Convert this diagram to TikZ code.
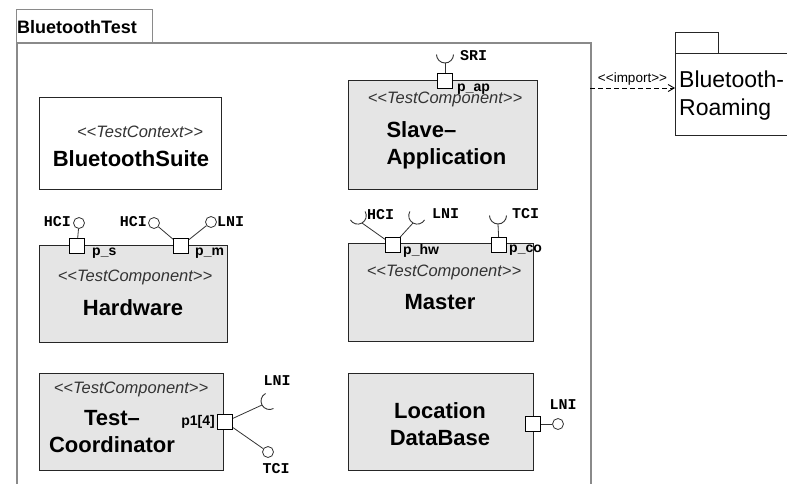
\documentclass[tikz,border=0pt]{standalone}
\usepackage{fontspec}
\setmainfont{Liberation Sans}
\setmonofont{Liberation Mono}
\usetikzlibrary{positioning,arrows.meta,calc}

\definecolor{compgray}{HTML}{E5E5E5}
\definecolor{framegray}{HTML}{8A8A8A}

\tikzset{
  comp/.style={draw=black!85, fill=compgray, line width=1.2pt, anchor=north west, inner sep=0pt},
  ctxbox/.style={draw=black!85, fill=white, line width=1.2pt, anchor=north west, inner sep=0pt},
  portbox/.style={draw=black, fill=white, line width=1pt, minimum size=15pt, inner sep=0pt},
  ball/.style={circle, draw=black!80, fill=white, line width=0.8pt, minimum size=11pt, inner sep=0pt},
  stereo/.style={font=\fontsize{16.5}{18}\selectfont\itshape, text=black!80},
  cname/.style={font=\fontsize{22}{27}\selectfont\bfseries, align=center},
  iflabel/.style={font=\fontsize{15}{17}\selectfont\ttfamily\bfseries, inner sep=1pt},
  portlabel/.style={font=\fontsize{14}{16}\selectfont\bfseries, inner sep=1pt},
  wire/.style={draw=black!80, line width=0.8pt},
  cup/.pic={\draw[black!80, line width=0.9pt] (-8.5,8.5) arc (180:360:8.5);}
}

\begin{document}
\begin{tikzpicture}[x=1pt,y=1pt]
	\useasboundingbox (0,0) rectangle (787,-483);
	
	% package frame
	\node[draw=framegray, line width=1.2pt, anchor=north west, minimum width=136pt, minimum height=33pt, inner sep=0pt] (tab) at (16,-9) {};
	\node[font=\fontsize{18}{20}\selectfont\bfseries, anchor=west, inner sep=0pt] (tabname) at (17,-27) {BluetoothTest};
	\node[draw=framegray, line width=1.6pt, anchor=north west, minimum width=574pt, minimum height=470pt, inner sep=0pt] (bttest) at (16,-42) {};
	
	% parts
	\node[ctxbox, minimum width=182pt, minimum height=92pt] (suite) at (39,-97) {};
	\node[comp, minimum width=189pt, minimum height=109pt] (slave) at (348,-80) {};
	\node[comp, minimum width=188pt, minimum height=97pt] (hw) at (39,-245) {};
	\node[comp, minimum width=185pt, minimum height=98pt] (master) at (348,-243) {};
	\node[comp, minimum width=184pt, minimum height=97pt] (coord) at (39,-373) {};
	\node[comp, minimum width=185pt, minimum height=97pt] (locdb) at (348,-373) {};
	
	\node[stereo] at (140,-132) {<{}<TestContext>{}>};
	\node[cname] at (131,-159) {BluetoothSuite};
	\node[stereo] at (445,-99) {<{}<TestComponent>{}>};
	\node[cname, align=left, anchor=west] at (383,-145) {Slave--\\Application};
	\node[stereo] at (135,-277) {<{}<TestComponent>{}>};
	\node[cname] at (133,-308) {Hardware};
	\node[stereo] at (444,-272) {<{}<TestComponent>{}>};
	\node[cname] at (440,-302) {Master};
	\node[stereo] at (131,-389) {<{}<TestComponent>{}>};
	\node[cname] at (112,-432) {Test--\\Coordinator};
	\node[cname] at (440,-424) {Location\\DataBase};
	
	% ports
	\node[portbox] (pap) at (445,-81) {};
	\node[portbox] (ps) at (77,-246) {};
	\node[portbox] (pm) at (181,-246) {};
	\node[portbox] (phw) at (393,-245) {};
	\node[portbox] (pco) at (499,-245) {};
	\node[portbox] (pone) at (225,-422) {};
	\node[portbox] (pdb) at (533,-424) {};
	
	\node[portlabel, anchor=west] at (456,-89) {p\_ap};
	\node[portlabel, anchor=west] at (91,-253) {p\_s};
	\node[portlabel, anchor=west] at (194,-253) {p\_m};
	\node[portlabel, anchor=west] at (402,-251) {p\_hw};
	\node[portlabel, anchor=west] at (508,-250) {p\_co};
	\node[portlabel, anchor=east] at (216,-422) {p1[4]};
	
	% provided interfaces
	\node[ball] (hcis) at (79,-223) {};
	\node[ball] (hcim) at (154,-223) {};
	\node[ball] (lnim) at (211,-222) {};
	\node[ball] (tcic) at (268,-452) {};
	\node[ball] (lnidb) at (558,-424) {};
	\draw[wire] (ps) -- (hcis);
	\draw[wire] (pm) -- (hcim);
	\draw[wire] (pm) -- (lnim);
	\draw[wire] (pone) -- (tcic);
	\draw[wire] (pdb) -- (lnidb);
	
	% required interfaces
	\coordinate (sri) at (445,-63);
	\coordinate (hcihw) at (362,-223);
	\coordinate (lnihw) at (413,-223);
	\coordinate (tcico) at (498,-224);
	\coordinate (lnic) at (262,-405);
	\draw[wire] (pap) -- (sri);
	\draw[wire] (phw) -- (hcihw);
	\draw[wire] (phw) -- (lnihw);
	\draw[wire] (pco) -- (tcico);
	\draw[wire] (pone) -- (lnic);
	\pic at (sri) {cup};
	\pic[rotate=30] at (hcihw) {cup};
	\pic[rotate=-30] at (lnihw) {cup};
	\pic at (tcico) {cup};
	\pic[rotate=-62] at (lnic) {cup};
	
	\node[iflabel, anchor=west] at (459,-56) {SRI};
	\node[iflabel, anchor=east] at (72,-222) {HCI};
	\node[iflabel, anchor=east] at (148,-222) {HCI};
	\node[iflabel, anchor=west] at (216,-222) {LNI};
	\node[iflabel, anchor=west] at (366,-215) {HCI};
	\node[iflabel, anchor=west] at (431,-214) {LNI};
	\node[iflabel, anchor=west] at (511,-214) {TCI};
	\node[iflabel] at (277,-381) {LNI};
	\node[iflabel] at (276,-469) {TCI};
	\node[iflabel] at (563,-405) {LNI};
	
	% imported package
	\node[draw=black!85, line width=1.2pt, anchor=north west, minimum width=43pt, minimum height=21pt, inner sep=0pt] (roamtab) at (675,-32) {};
	\node[draw=black!85, line width=1.2pt, anchor=north west, minimum width=140pt, minimum height=82pt, inner sep=0pt] (roam) at (675,-53) {};
	\node[font=\fontsize{23}{28}\selectfont, anchor=west, align=left, inner sep=0pt] at (679,-96) {Bluetooth-\\Roaming};
	
	\coordinate (depfrom) at (590,-88);
	\draw[dash pattern=on 5pt off 3pt, line width=0.9pt, -{Straight Barb[length=6pt,width=7pt]}] (depfrom) -- (depfrom -| roam.west)
		node[midway, above, font=\fontsize{13.5}{15}\selectfont, inner sep=2pt] {<{}<import>{}>};
\end{tikzpicture}
\end{document}
